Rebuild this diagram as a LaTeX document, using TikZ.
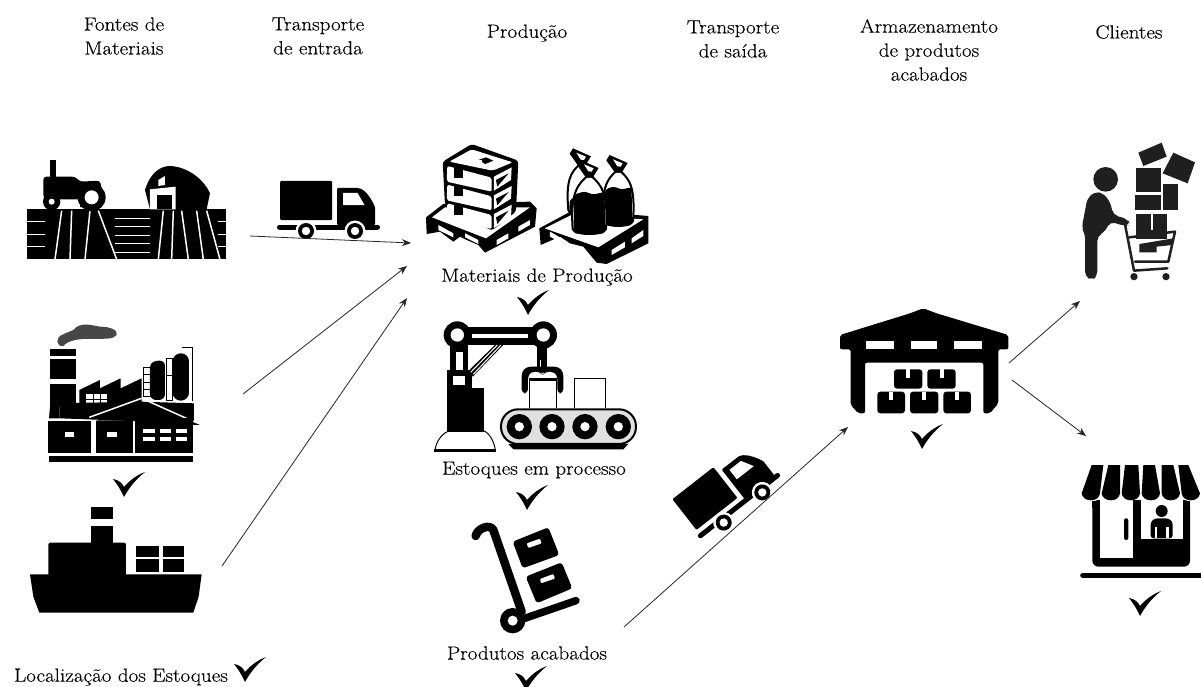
\documentclass[tikz,border=0pt]{standalone}
\usepackage{fontspec}
\setmainfont{Latin Modern Roman}[FakeStretch=1.11,FakeBold=0.25]
\usetikzlibrary{arrows.meta}
\newcommand{\sandbag}[5]{%
  \fill[white] (#1-#3,#5-15) .. controls (#1-#3-8,#2+45) and (#1-32,#2+22) .. (#1-8,#2) -- (#1+8,#2) .. controls (#1+32,#2+22) and (#1+#3+8,#2+45) .. (#1+#3,#5-15) .. controls (#1+#3-5,#5+5) and (#1-#3+5,#5+5) .. (#1-#3,#5-15) -- cycle;
  \draw[black,line width=2pt] (#1-#3,#5-15) .. controls (#1-#3-8,#2+45) and (#1-32,#2+22) .. (#1-8,#2) -- (#1+8,#2) .. controls (#1+32,#2+22) and (#1+#3+8,#2+45) .. (#1+#3,#5-15) .. controls (#1+#3-5,#5+5) and (#1-#3+5,#5+5) .. (#1-#3,#5-15) -- cycle;
  \fill[black,rounded corners=3pt] (#1-#3+4,#4+4) -- (#1-14,#4-6) -- (#1+10,#4+4) -- (#1+#3-4,#4-4) -- (#1+#3-3,#5-12) .. controls (#1+#3-8,#5+2) and (#1-#3+8,#5+2) .. (#1-#3+3,#5-12) -- cycle;
  \fill[black] (#1-10,#2+3) -- (#1+10,#2+3) -- (#1+28,#2-26) -- (#1-26,#2-50) -- (#1-36,#2-34) -- cycle;
  \fill[white] (#1-3,#2-16) -- (#1+7,#2-15) -- (#1+13,#2-25) -- (#1-16,#2-37) -- cycle;}
\tikzset{
  lab/.style={font=\fontsize{19}{24}\selectfont,align=center,inner sep=0pt,text=black},
  flow/.style={-{Stealth[length=9pt,width=7pt]},line width=0.8pt,black!85},
  tickmark/.pic={\fill[black] (-11,-18) .. controls (-5,-17) and (-2,-14) .. (0,-10) .. controls (6,-17) and (13,-22) .. (21,-25) .. controls (11,-17) and (5,-9) .. (0,0) .. controls (-3,-7) and (-7,-13) .. (-11,-18) -- cycle;},
  truckpic/.pic={
    \fill[black,rounded corners=1pt] (-50.5,-50) rectangle (1.5,-11);
    \fill[black,rounded corners=1pt] (6.5,-43) -- (27,-43) .. controls (34,-42) and (40,-34) .. (44.5,-24) -- (44.5,-6) -- (6.5,-6) -- cycle;
    \fill[white] (12.5,-38) -- (27,-38) -- (34,-26) -- (12.5,-26) -- cycle;
    \draw[black,line width=5pt,line cap=round] (-51,-4) -- (47,-4);
    \foreach \wx in {-24.5,24.5}{
      \fill[white] (\wx,0) circle (10.5);
      \fill[black] (\wx,0) circle (8);
      \fill[white] (\wx,0) circle (4.2);}
  },
  zoomv/.style={x=0.3333pt,y=-0.3333pt}
}
\begin{document}
\begin{tikzpicture}[x=1pt,y=-1pt]
\useasboundingbox (0,0) rectangle (1201,687);
\fill[white] (0,0) rectangle (1201,687);

% --- headings
\node[lab] (h1) at (124,36) {Fontes de\\Materiais};
\node[lab] (h2) at (318,36) {Transporte\\de entrada};
\node[lab] (h3) at (527,33) {Produção};
\node[lab] (h4) at (733,39) {Transporte\\de saída};
\node[lab] (h5) at (929,50) {Armazenamento\\de produtos\\acabados};
\node[lab] (h6) at (1129,32) {Clientes};
\node[lab] (l1) at (537,277) {Materiais de Produção};
\node[lab] (l2) at (534,470) {Estoques em processo};
\node[lab] (l3) at (527,653) {Produtos acabados};
\node[lab] (l4) at (121,677) {Localização dos Estoques};

% --- farm
\begin{scope}[shift={(0,140)},zoomv]
\fill (82,208) rectangle (677,358);
\foreach \a/\b in {185/165,215/210,270/255,295/350,490/475,520/515,545/565,590/610,620/660}
  \draw[white,line width=1.5pt] (\a,212) -- (\b,358);
\foreach \yy in {245,282,320}{\draw[white,line width=.9pt] (82,\yy) -- (135,\yy);\draw[white,line width=.9pt] (655,\yy) -- (677,\yy);}
\foreach \yy in {235,260,285,310,338}\draw[white,line width=.9pt] (345,\yy) -- (450,\yy);
\fill (150,60) rectangle (168,115);
\fill[rounded corners=3pt] (130,110) -- (225,110) -- (240,125) -- (300,122) -- (310,170) -- (290,200) -- (145,205) -- (130,170) -- cycle;
\fill[white] (180,178) -- (240,178) -- (240,205) -- (170,205) -- cycle;
\fill (155,185) circle (26);
\fill[white] (155,185) circle (9);
\fill (275,172) circle (42);
\fill[white] (275,172) circle (21);
\fill (435,150) .. controls (450,100) and (480,78) .. (510,78) .. controls (560,80) and (610,115) .. (630,160) -- (620,208) -- (450,208) -- cycle;
\fill[white] (450,148) -- (527,140) -- (527,208) -- (450,208) -- cycle;
\fill (470,165) rectangle (515,208);
\fill[white] (475,120) -- (495,108) -- (495,135) -- (475,138) -- cycle;
\end{scope}

% --- first truck
\pic at (330.5,231) {truckpic};

% --- factory
\begin{scope}[shift={(0,140)},zoomv]
\fill[black!72] (172,605) .. controls (170,585) and (200,580) .. (220,570) .. controls (240,545) and (270,555) .. (300,560) .. controls (330,560) and (355,570) .. (350,585) .. controls (340,600) and (310,595) .. (280,597) .. controls (240,595) and (205,600) .. (190,618) .. controls (180,620) and (172,612) .. (172,605) -- cycle;
\fill (150,628) rectangle (228,648);
\fill (150,658) rectangle (228,718);
\fill (150,732) rectangle (228,800);
\fill (150,800) -- (178,800) -- (178,835) -- (147,835) -- cycle;
\fill (238,750) -- (300,720) -- (300,745) -- (362,715) -- (362,745) -- (425,715) -- (425,790) -- (238,800) -- cycle;
\fill[white] (258,762) rectangle (322,795);
\draw[black,line width=.9pt] (279,762) -- (279,795) (300,762) -- (300,795) (258,778) -- (322,778);
\draw[black,line width=.8pt] (430,682) rectangle (450,770) (430,704) -- (450,704) (430,726) -- (450,726) (430,748) -- (450,748);
\fill[rounded corners=6pt] (450,780) -- (450,665) -- (495,660) -- (495,780) -- cycle;
\draw[black,line width=.9pt] (498,655) rectangle (516,780) (498,705) -- (516,705);
\fill[rounded corners=8pt] (518,782) -- (518,640) -- (567,640) -- (567,782) -- cycle;
\draw[black,line width=.9pt] (545,622) -- (578,622) -- (578,782);
\fill (178,790) -- (420,785) -- (582,790) -- (582,850) -- (178,835) -- cycle;
\draw[white,line width=1.5pt] (268,832) -- (425,775) -- (604,855);
\fill (288,842) -- (425,785) -- (600,855) -- (578,855) -- (405,842) -- cycle;
\fill (145,842) rectangle (272,940);
\fill (287,842) rectangle (398,940);
\fill (405,835) rectangle (578,940);
\fill[white] (195,875) rectangle (222,892);
\fill[white] (322,875) rectangle (352,892);
\foreach \wa/\wb in {430/465,480/512,528/560}{
  \fill[white] (\wa,868) rectangle (\wb,880);
  \fill[white] (\wa,891) rectangle (\wb,903);}
\fill (147,948) rectangle (580,967);
\end{scope}

% --- ship
\begin{scope}[shift={(0,470)},zoomv]
\fill (90,313) -- (605,313) -- (596,380) -- (580,428) -- (118,428) -- (100,380) -- cycle;
\fill[rounded corners=2pt] (145,320) -- (145,218) -- (378,218) -- (378,320) -- cycle;
\fill (272,168) rectangle (338,225);
\fill (272,110) rectangle (338,146);
\fill (408,228) rectangle (478,260);
\fill (488,228) rectangle (552,260);
\fill (408,268) rectangle (478,306);
\fill (488,268) rectangle (552,306);
\end{scope}

% --- sacks on pallet
\begin{scope}[shift={(410,130)},zoomv]
\fill (48,262) -- (100,222) -- (360,215) -- (380,235) -- (375,290) -- (225,368) -- (205,345) -- (170,330) -- (150,320) -- (130,335) -- (90,305) -- (50,312) -- cycle;
\fill[white] (66,262) -- (105,232) -- (360,232) -- (228,325) -- cycle;
\fill[white] (85,285) -- (130,310) -- (130,322) -- (85,300) -- cycle;
\fill[white] (165,322) -- (205,342) -- (205,330) -- (165,310) -- cycle;
\fill[white] (260,345) -- (295,325) -- (295,310) -- (260,330) -- cycle;
\fill[white] (325,305) -- (360,285) -- (360,270) -- (325,290) -- cycle;
\fill[rounded corners=3pt] (98,95) -- (185,42) -- (325,92) -- (318,245) -- (245,302) -- (105,225) -- cycle;
\fill[white,rounded corners=2pt] (118,95) -- (185,58) -- (308,97) -- (248,122) -- cycle;
\fill[black] (205,90) -- (228,82) -- (250,92) -- (226,102) -- cycle;
\fill[white] (205,91) -- (215,91) -- (215,95) -- (205,95) -- cycle;
\foreach \dy in {0,56,112}{
  \fill[white,rounded corners=2pt] (112,108+\dy) -- (245,143+\dy) -- (245,185+\dy) -- (110,155+\dy) -- cycle;
  \fill (133,112+\dy) rectangle (158,143+\dy);
  \fill[white] (252,140+\dy) -- (305,112+\dy) -- (303,150+\dy) -- (252,182+\dy) -- cycle;
  \fill (258,150+\dy) -- (296,130+\dy) -- (262,170+\dy) -- cycle;
}
% sand bags
\fill (388,295) -- (490,240) -- (715,258) -- (715,340) -- (590,402) -- (560,398) -- (520,350) -- (480,340) -- (450,320) -- (392,345) -- cycle;
\fill[white] (404,295) -- (490,252) -- (700,268) -- (565,352) -- cycle;
\fill[white] (420,320) -- (460,342) -- (460,328) -- (420,305) -- cycle;
\fill[white] (605,375) -- (645,352) -- (645,335) -- (605,360) -- cycle;
\fill[white] (665,340) -- (700,318) -- (700,300) -- (665,325) -- cycle;
\sandbag{515}{105}{40}{205}{255}{}
\sandbag{625}{125}{44}{175}{288}{}
\sandbag{538}{140}{50}{190}{312}{}
\end{scope}

% --- robot and conveyor
\begin{scope}[shift={(420,310)},zoomv]
\fill[white] (45,420) .. controls (50,385) and (75,365) .. (90,362) -- (190,362) .. controls (210,370) and (222,395) .. (226,420) -- cycle;
\draw[black,line width=1pt] (45,420) .. controls (50,385) and (75,365) .. (90,362) -- (190,362) .. controls (210,370) and (222,395) .. (226,420);
\fill (42,418) rectangle (228,427);
\fill (80,235) rectangle (192,365);
\fill (80,180) rectangle (155,240);
\fill[white] (100,197) rectangle (135,225);
\fill (90,95) rectangle (145,182);
\fill[white] (108,125) rectangle (128,180);
\fill (112,50) rectangle (370,105);
\fill[white] (155,72) rectangle (325,85);
\fill (112,75) circle (41);
\fill[white] (112,75) circle (20);
\fill (370,75) circle (41);
\fill[white] (370,75) circle (20);
\fill (150,178) -- (225,105) -- (250,105) -- (158,200) -- cycle;
\draw[white,line width=1pt] (152,187) -- (232,105) (160,193) -- (243,105);
\fill (350,105) rectangle (380,175);
\draw[white,line width=.8pt] (362,150) -- (362,185);
\fill[white] (328,205) rectangle (410,295);
\draw[black,line width=.9pt] (328,295) -- (328,205) -- (410,205) -- (410,295);
\fill (328,205) rectangle (410,212);
\fill[rounded corners=4pt] (305,250) -- (305,185) -- (320,170) -- (415,170) -- (430,185) -- (430,250) -- (412,250) -- (412,195) -- (400,185) -- (375,185) -- (368,195) -- (360,185) -- (335,185) -- (324,195) -- (324,250) -- cycle;
\fill[white] (463,205) rectangle (556,295);
\draw[black,line width=.9pt] (463,295) -- (463,205) -- (556,205) -- (556,295);
\fill[black!12,draw=black,line width=2pt,rounded corners=17pt] (243,298) rectangle (648,402);
\fill (265,402) -- (625,402) -- (610,418) -- (280,418) -- cycle;
\foreach \rx in {298,396,495,595}{
  \fill (\rx,350) circle (38);
  \fill[white] (\rx,350) circle (14);}
\end{scope}

% --- hand truck
\begin{scope}[shift={(440,480)},zoomv]
\draw[black,line width=8.5pt,line cap=round,line join=round] (107,168) .. controls (112,145) and (150,130) .. (160,150) -- (245,395);
\draw[black,line width=7.5pt,line cap=round] (240,420) -- (408,362);
\fill (218,422) circle (38);
\fill[white] (218,422) circle (15);
\fill[rounded corners=3pt] (218,185) -- (325,142) -- (358,225) -- (248,265) -- cycle;
\fill[white,rounded corners=1pt] (260,190) -- (300,176) -- (305,190) -- (265,204) -- cycle;
\fill[rounded corners=3pt] (257,290) -- (365,247) -- (397,325) -- (290,370) -- cycle;
\fill[white,rounded corners=1pt] (300,297) -- (340,282) -- (345,296) -- (303,310) -- cycle;
\end{scope}

% --- second truck
\pic[rotate=38] at (743,507.5) {truckpic};

% --- warehouse
\begin{scope}[shift={(820,290)},zoomv]
\fill[rounded corners=2pt] (60,135) -- (270,70) -- (310,55) -- (350,70) -- (565,135) -- (565,178) -- (535,178) -- (535,340) -- (510,370) -- (490,370) -- (490,218) -- (135,218) -- (135,370) -- (115,370) -- (92,345) -- (92,178) -- (60,178) -- cycle;
\fill[white] (138,152) rectangle (222,178);
\fill[white] (272,152) rectangle (352,178);
\fill[white] (403,152) rectangle (485,178);
\foreach \bx/\by/\bw/\bh in {222/238/85/58,322/238/85/58,172/305/83/65,270/305/85/65,370/305/83/65}{
  \fill[rounded corners=3pt] (\bx,\by) rectangle (\bx+\bw,\by+\bh);
  \fill[white] (\bx+\bw/2-6,\by) rectangle (\bx+\bw/2+6,\by+26);}
\end{scope}

% --- shopper
\begin{scope}[shift={(1060,130)},zoomv,black!88]
\fill (137,148) circle (37);
\fill[rounded corners=5pt] (75,440) -- (75,310) -- (65,295) -- (82,205) -- (105,185) -- (130,190) -- (150,215) -- (160,255) -- (205,268) -- (210,285) -- (195,288) -- (150,275) -- (135,305) -- (112,318) -- (112,440) -- (95,450) -- cycle;
\fill (235,68) -- (305,38) -- (320,80) -- (250,108) -- cycle;
\fill (340,68) -- (405,97) -- (383,160) -- (308,130) -- cycle;
\fill (228,115) rectangle (303,185);
\fill (310,163) rectangle (355,240);
\fill (225,195) rectangle (303,240);
\fill (228,252) rectangle (272,328);
\fill (280,252) rectangle (322,328);
\fill (272,300) rectangle (280,328);
\draw[black!88,line width=2.5pt,line join=round,line cap=round] (195,283) -- (222,422) -- (322,415);
\draw[black!88,line width=2.5pt,line join=round,line cap=round] (208,322) -- (345,305) -- (325,395) -- (225,395);
\fill (238,342) -- (340,325) -- (338,345) -- (290,350) -- (290,367) -- (238,367) -- cycle;
\fill (222,440) circle (11);
\fill (318,440) circle (11);
\end{scope}

% --- shop
\begin{scope}[shift={(1060,450)},zoomv]
\fill[rounded corners=6pt] (97,150) rectangle (390,350);
\fill[white] (120,140) -- (220,140) -- (220,325) -- (120,325) -- cycle;
\fill[white] (243,140) -- (370,140) -- (370,268) -- (243,268) -- cycle;
\fill[white] (90,120) rectangle (395,150);
\fill (97,152) rectangle (120,175);
\fill (220,152) rectangle (243,175);
\fill (370,152) rectangle (390,175);
\foreach \ta/\tb/\ba/\bb in {95/130/65/120,145/180/125/180,195/235/185/240,250/285/245/300,305/340/305/360,355/385/365/420}{
  \fill (\ta,45) -- (\tb,45) -- (\bb,130) .. controls (\bb-3,158) and (\ba+3,158) .. (\ba,130) -- cycle;}
\fill[rounded corners=2pt] (192,205) rectangle (205,270);
\fill (305,183) circle (18);
\fill[rounded corners=3pt] (272,265) -- (272,215) -- (285,205) -- (325,205) -- (338,215) -- (338,265) -- cycle;
\fill[white] (284,230) rectangle (291,265);
\fill[white] (319,230) rectangle (326,265);
\draw[black,line width=5pt,line cap=round] (68,376) -- (423,376);
\end{scope}

% --- ticks
\pic at (124,497) {tickmark};
\pic at (245,682) {tickmark};
\pic at (528,315) {tickmark};
\pic at (527,510) {tickmark};
\pic at (526,691) {tickmark};
\pic at (922,449) {tickmark};
\pic at (1140,616) {tickmark};

% --- connectors
\coordinate (a1s) at (250,236);\coordinate (a1e) at (411,243);
\coordinate (a2s) at (243,394);\coordinate (a2e) at (407,266);
\coordinate (a3s) at (222,566);\coordinate (a3e) at (407,298);
\coordinate (a4s) at (624,627);\coordinate (a4e) at (848,427);
\coordinate (a5s) at (1009,363);\coordinate (a5e) at (1080,301);
\coordinate (a6s) at (1012,380);\coordinate (a6e) at (1086,436);
\draw[flow] (a1s) -- (a1e);
\draw[flow] (a2s) -- (a2e);
\draw[flow] (a3s) -- (a3e);
\draw[flow] (a4s) -- (a4e);
\draw[flow] (a5s) -- (a5e);
\draw[flow] (a6s) -- (a6e);
\end{tikzpicture}
\end{document}
